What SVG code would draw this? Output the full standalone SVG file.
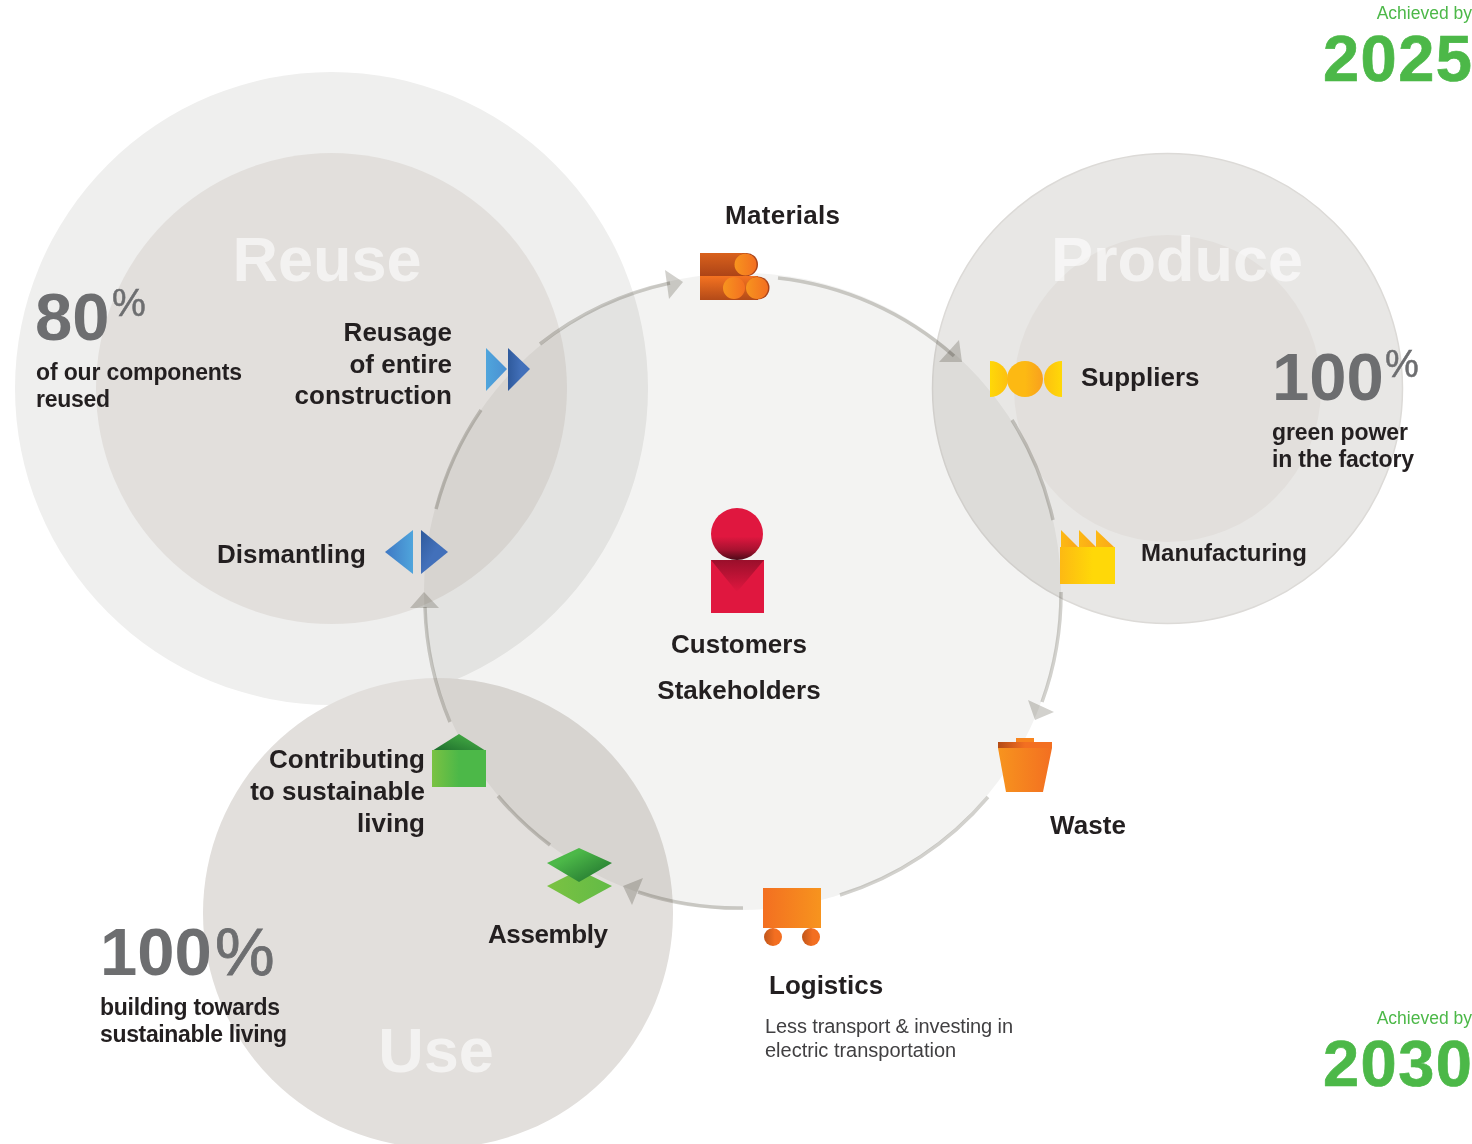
<svg xmlns="http://www.w3.org/2000/svg" width="1472" height="1144" viewBox="0 0 1472 1144">
<style>
text{font-family:"Liberation Sans",Arial,sans-serif}
.b{font-weight:700;font-size:26px;fill:#231f20}
.s{font-weight:700;font-size:23px;fill:#231f20}
.big{font-weight:700;font-size:63px;fill:#fff;fill-opacity:.6}
.n{font-weight:700;font-size:67px;fill:#6d6e70}
.p{font-size:38px;fill:#6d6e70;stroke:#6d6e70;stroke-width:.5}
.ach{font-size:17.5px;fill:#4cb848}
.yr{font-weight:700;font-size:65px;fill:#4cb848;stroke:#4cb848;stroke-width:.7}
.r{text-anchor:end}
.m{text-anchor:middle}
.c{mix-blend-mode:multiply}
.arc{fill:none;stroke:#d2d1cd;stroke-width:3.5;mix-blend-mode:multiply}
.head{fill:#d2d1cd;mix-blend-mode:multiply}
</style>
<defs>
<linearGradient id="or" x1="0" x2="1" y1="0" y2="0"><stop offset="0" stop-color="#f7941e"/><stop offset="1" stop-color="#f36f21"/></linearGradient>
<linearGradient id="or2" x1="0" x2="1" y1="0" y2="0"><stop offset="0" stop-color="#f36f21"/><stop offset="1" stop-color="#f7941e"/></linearGradient>
<linearGradient id="wh" x1="0" x2="1" y1="0" y2="0"><stop offset="0" stop-color="#c0561b"/><stop offset=".6" stop-color="#f36f21"/></linearGradient>
<linearGradient id="lid" x1="0" x2="1" y1="0" y2="0"><stop offset="0" stop-color="#b34a16"/><stop offset=".5" stop-color="#f36f21"/><stop offset="1" stop-color="#f36f21"/></linearGradient>
<linearGradient id="t1" x1="0" x2="0" y1="0" y2="1"><stop offset="0" stop-color="#d9611c"/><stop offset="1" stop-color="#ad4417"/></linearGradient>
<linearGradient id="t2" x1="0" x2="0" y1="0" y2="1"><stop offset="0" stop-color="#f57321"/><stop offset="1" stop-color="#b34a18"/></linearGradient>
<linearGradient id="y1" x1="0" x2="1" y1="0" y2="0"><stop offset="0" stop-color="#fdb913"/><stop offset=".6" stop-color="#ffd808"/></linearGradient>
<linearGradient id="y4" x1="0" x2="1" y1="0" y2="0"><stop offset="0" stop-color="#ffd808"/><stop offset="1" stop-color="#fdc010"/></linearGradient>
<linearGradient id="y2" x1="1" x2="0" y1="0" y2="0"><stop offset="0" stop-color="#ffd808"/><stop offset="1" stop-color="#fdc010"/></linearGradient>
<linearGradient id="y3" x1="0" x2="1" y1="0" y2="0"><stop offset="0" stop-color="#fdb913"/><stop offset=".5" stop-color="#fdb913"/><stop offset="1" stop-color="#f9a01e"/></linearGradient>
<linearGradient id="tooth" x1="0" x2="1" y1="0" y2="0"><stop offset="0" stop-color="#fdb913"/><stop offset="1" stop-color="#faa61a"/></linearGradient>
<linearGradient id="bl" x1="0" x2="1" y1="0" y2="0"><stop offset="0" stop-color="#4fa5dc"/><stop offset="1" stop-color="#4a90d2"/></linearGradient>
<linearGradient id="bl2" x1="0" x2="1" y1="0" y2="0"><stop offset="0" stop-color="#2f5a9c"/><stop offset=".6" stop-color="#4270ba"/></linearGradient>
<linearGradient id="bl3" x1="1" x2="0" y1="0" y2="0"><stop offset="0" stop-color="#4fa5dc"/><stop offset="1" stop-color="#3f78c4"/></linearGradient>
<linearGradient id="bl4" x1="0" x2="1" y1="0" y2="1"><stop offset="0" stop-color="#2f5a9c"/><stop offset=".5" stop-color="#4270ba"/></linearGradient>
<linearGradient id="g1" x1="0" x2="1" y1="0" y2="0"><stop offset="0" stop-color="#7bc242"/><stop offset=".5" stop-color="#4cb848"/></linearGradient>
<linearGradient id="g2" x1="0" x2="1" y1="1" y2="0"><stop offset="0" stop-color="#1c6b2c"/><stop offset="1" stop-color="#4cb848"/></linearGradient>
<linearGradient id="g3" x1="0" x2="1" y1="0" y2="1"><stop offset=".3" stop-color="#4cb848"/><stop offset="1" stop-color="#1c6b2c"/></linearGradient>
<linearGradient id="g4" x1="0" x2="1" y1="0" y2="0"><stop offset="0" stop-color="#7bc242"/><stop offset="1" stop-color="#62bb46"/></linearGradient>
<linearGradient id="rd" x1="0" x2="0" y1="0" y2="1"><stop offset=".55" stop-color="#e0173f"/><stop offset=".8" stop-color="#a81230"/><stop offset="1" stop-color="#4c0a18"/></linearGradient>
<linearGradient id="rd2" x1="0" x2="0" y1="0" y2="1"><stop offset="0" stop-color="#9a0f2b"/><stop offset="1" stop-color="#e0173f"/></linearGradient>
</defs>
<rect width="1472" height="1144" fill="#fff"/>
<g id="background-circles">
<circle cx="331.5" cy="388.5" r="316.5" fill="#efefee"/>
<circle cx="331.5" cy="388.5" r="235.5" fill="#e2dfdc"/>
<circle cx="1167.5" cy="388.5" r="235" fill="#e8e7e5" stroke="#dcdad7" stroke-width="1.5"/>
<circle cx="1167.5" cy="388.5" r="153.5" fill="#e2dfdc"/>
<circle cx="438" cy="913" r="235" fill="#e2dfdc"/>
<circle class="c" cx="742.5" cy="591.5" r="318.5" fill="#f3f3f2"/>
</g>
<g id="connectors">
<path class="arc" d="M540 344A318 318 0 0 1 670 283"/><polygon class="head" points="683,282 665,270 669,299"/>
<path class="arc" d="M778 278A318 318 0 0 1 954 356"/><polygon class="head" points="959,340 939,362 962,362"/>
<path class="arc" d="M1012 420A318 318 0 0 1 1053 520"/>
<path class="arc" d="M1061 592A318 318 0 0 1 1042 702"/><polygon class="head" points="1028,700 1054,712 1035,720"/>
<path class="arc" d="M988 797A318 318 0 0 1 840 895"/>
<path class="arc" d="M743 908A318 318 0 0 1 638 892"/><polygon class="head" points="623,886 643,878 632,905"/>
<path class="arc" d="M550 845A318 318 0 0 1 498 796"/>
<path class="arc" d="M450 722A318 318 0 0 1 425 607"/><polygon class="head" points="424,592 410,608 439,608"/>
<path class="arc" d="M436 509A318 318 0 0 1 481 410"/>
</g>
<g id="labels-regions">
<text class="big m" x="327" y="281">Reuse</text>
<text class="big m" x="1177" y="281">Produce</text>
<text class="big m" x="436" y="1072">Use</text>
</g>
<g id="node-materials">
<rect x="700" y="253" width="46" height="23" fill="url(#t1)"/><circle cx="746.5" cy="264.5" r="11.5" fill="#a8431a"/><circle cx="745.5" cy="264.5" r="11" fill="url(#or)"/>
<rect x="700" y="276" width="58" height="24" fill="url(#t2)"/><circle cx="758" cy="288" r="11.5" fill="#a8431a"/><circle cx="757" cy="288" r="11" fill="url(#or)"/><circle cx="734" cy="288" r="11" fill="url(#or)"/>
<text class="b" x="725" y="224" textLength="115">Materials</text>
</g>
<g id="node-suppliers">
<path d="M990 361A18 18 0 0 1 990 397Z" fill="url(#y4)"/><circle cx="1025" cy="379" r="18" fill="url(#y3)"/><path d="M1062 361A18 18 0 0 0 1062 397Z" fill="url(#y2)"/>
<text class="b" x="1081" y="386">Suppliers</text>
</g>
<g id="node-manufacturing">
<polygon points="1061,530 1078,547 1061,547" fill="url(#tooth)"/><polygon points="1079,530 1096,547 1079,547" fill="url(#tooth)"/><polygon points="1096,530 1114,547 1096,547" fill="url(#tooth)"/>
<rect x="1060" y="547" width="55" height="37" fill="url(#y1)"/>
<text class="b" x="1141" y="561" style="font-size:24px" textLength="166">Manufacturing</text>
</g>
<g id="node-waste">
<rect x="1016" y="738" width="18" height="5" fill="#f7841e"/><rect x="998" y="742" width="54" height="6" fill="url(#lid)"/>
<polygon points="998,748 1052,748 1043,792 1006,792" fill="url(#or)"/>
<text class="b" x="1050" y="834" textLength="76">Waste</text>
</g>
<g id="node-logistics">
<rect x="763" y="888" width="58" height="40" fill="url(#or2)"/><circle cx="773" cy="937" r="9" fill="url(#wh)"/><circle cx="811" cy="937" r="9" fill="url(#wh)"/>
<text class="b" x="769" y="994">Logistics</text>
<text x="765" y="1033" style="font-size:20px;fill:#414042" textLength="248">Less transport &amp; investing in</text>
<text x="765" y="1057" style="font-size:20px;fill:#414042">electric transportation</text>
</g>
<g id="node-assembly">
<polygon points="547,886 579,870 612,886 579,904" fill="url(#g4)"/><polygon points="547,863 579,848 612,863 579,882" fill="url(#g3)"/>
<text class="b" x="488" y="943" textLength="120">Assembly</text>
</g>
<g id="node-contributing">
<polygon points="432,751 459,734 486,751" fill="url(#g2)"/><rect x="432" y="750" width="54" height="37" fill="url(#g1)"/>
<text class="b r" x="425" y="768">Contributing</text><text class="b r" x="425" y="800">to sustainable</text><text class="b r" x="425" y="832">living</text>
</g>
<g id="node-dismantling">
<polygon points="385,552 413,530 413,574" fill="url(#bl3)"/><polygon points="421,530 448,552 421,574" fill="url(#bl4)"/>
<text class="b" x="217" y="563">Dismantling</text>
</g>
<g id="node-reusage">
<polygon points="486,348 507,369 486,391" fill="url(#bl)"/><polygon points="508,348 530,369 508,391" fill="url(#bl2)"/>
<text class="b r" x="452" y="341">Reusage</text><text class="b r" x="452" y="373">of entire</text><text class="b r" x="452" y="404">construction</text>
</g>
<g id="node-customers">
<circle cx="737" cy="534" r="26" fill="url(#rd)"/><rect x="711" y="560" width="53" height="53" fill="#e0173f"/><polygon points="711,560 764,560 737,592" fill="url(#rd2)"/>
<text class="b m" x="739" y="653">Customers</text><text class="b m" x="739" y="699">Stakeholders</text>
</g>
<g id="stat-80">
<text class="n" x="35" y="340">80</text><text class="p" x="112" y="316">%</text>
<text class="s" x="36" y="380" textLength="206">of our components</text><text class="s" x="36" y="407" textLength="74">reused</text>
</g>
<g id="stat-100-green">
<text class="n" x="1272" y="400">100</text><text class="p" x="1385" y="377">%</text>
<text class="s" x="1272" y="440" textLength="136">green power</text><text class="s" x="1272" y="467" textLength="142">in the factory</text>
</g>
<g id="stat-100-living">
<text class="n" x="100" y="975">100</text><text class="p" x="215" y="975" style="font-size:67px;stroke-width:.8">%</text>
<text class="s" x="100" y="1015" textLength="180">building towards</text><text class="s" x="100" y="1042" textLength="187">sustainable living</text>
</g>
<g id="target-2025">
<text class="ach r" x="1472" y="18.5">Achieved by</text><text class="yr" x="1323" y="81" textLength="149">2025</text>
</g>
<g id="target-2030">
<text class="ach r" x="1472" y="1023.5">Achieved by</text><text class="yr" x="1323" y="1086" textLength="149">2030</text>
</g>
</svg>
